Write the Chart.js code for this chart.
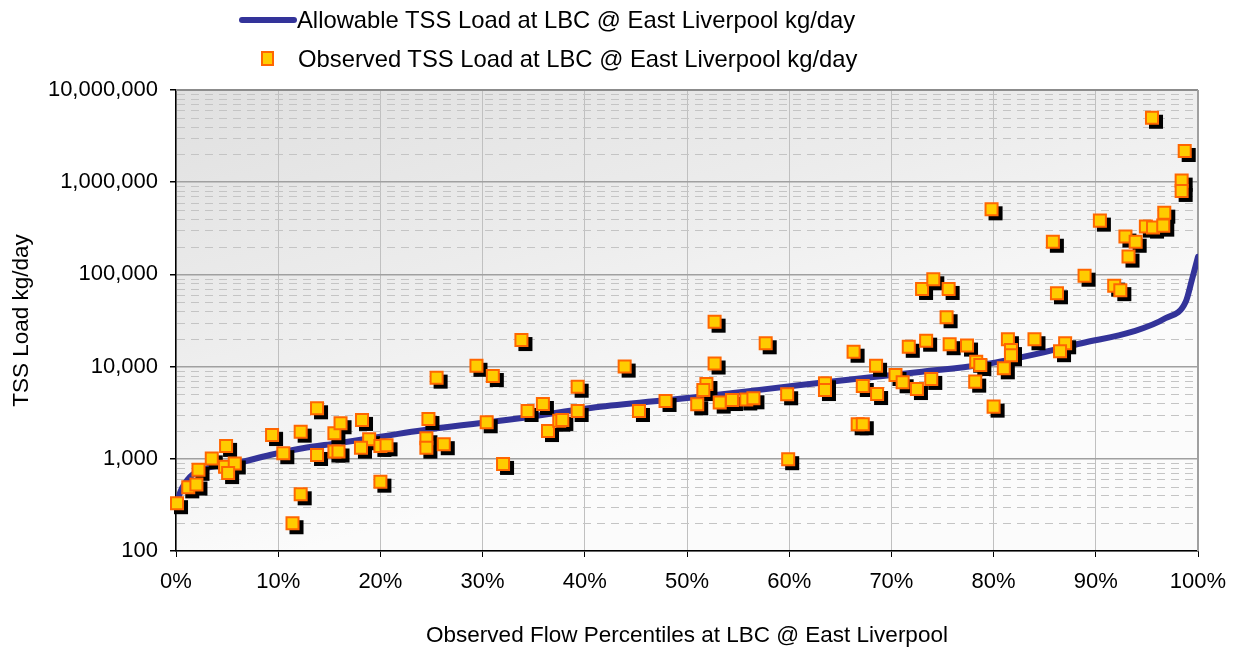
<!DOCTYPE html>
<html>
<head>
<meta charset="utf-8">
<script src="https://cdn.jsdelivr.net/npm/chart.js@4/dist/chart.umd.min.js"></script>
<style>
  html, body { margin: 0; padding: 0; background: #fff; }
  #wrap { position: relative; width: 1235px; height: 650px; }
  #legend { position: absolute; left: 0; top: 0; font-family: "Liberation Sans", Arial, sans-serif; font-size: 23.8px; color: #000; }
  .row { position: absolute; white-space: nowrap; line-height: 1; }
  .swLine { position: absolute; width: 58px; height: 6px; border-radius: 3px; background: #333399; }
  .swBox { position: absolute; width: 9px; height: 11px; background: #ffcc00; border: 2px solid #ff6600; }
</style>
</head>
<body>
<div id="wrap">
  <canvas id="chart" width="1235" height="650"></canvas>
  <div id="legend">
    <div class="swLine" style="left:239px; top:17px;"></div>
    <div class="row" style="left:297px; top:8px;">Allowable TSS Load at LBC @ East Liverpool kg/day</div>
    <div class="swBox" style="left:261px; top:51px;"></div>
    <div class="row" style="left:298px; top:47px;">Observed TSS Load at LBC @ East Liverpool kg/day</div>
  </div>
</div>
<script>
// load duration curve (flow percentile, kg/day)
const allowPct = [0, 0.4, 1.4, 3.0, 5.9, 9.2, 12.4, 15.7, 19.0, 25.5, 32.3, 41.5, 51.3, 61.1, 73.0, 78.7, 83.8, 88.6, 93.6, 96.8, 98.8, 99.4, 100];
const allowLoad = [300, 430, 640, 790, 895, 1100, 1300, 1470, 1670, 2140, 2630, 3670, 4710, 6310, 8810, 10400, 13400, 17900, 23900, 33400, 50600, 86900, 155000];

// observed samples
const obsPct = [0.1, 1.2, 2.0, 2.2, 3.5, 4.9, 4.8, 5.75, 5.1, 9.4, 10.5, 12.2, 12.2, 11.4, 13.8, 13.8, 15.5, 16.1, 15.5, 15.9,
  18.2, 18.9, 18.1, 20.0, 20.6, 20.0, 24.7, 24.5, 24.5, 26.2, 25.5, 29.4, 31.0, 30.4, 32.0, 33.8, 34.4, 35.9, 36.4, 37.5,
  37.8, 39.3, 39.3, 43.9, 45.3, 47.9, 51.0, 51.9, 51.6, 52.7, 52.7, 53.2, 54.4, 55.8, 56.5, 57.7, 59.8, 59.9, 63.5, 63.5,
  66.3, 66.7, 67.2, 67.2, 68.5, 68.6, 70.4, 71.1, 71.7, 72.5, 73.0, 73.4, 73.9, 74.1, 75.6, 75.4, 75.7, 77.4, 78.3, 78.7,
  78.2, 79.8, 80.0, 81.0, 81.4, 81.7, 81.7, 84.0, 85.8, 86.2, 87.0, 86.5, 88.9, 90.4, 91.8, 92.4, 92.9, 93.2, 93.9, 94.9,
  95.6, 96.7, 96.6, 95.5, 98.7, 98.4, 98.4];
const obsLoad = [330, 490, 525, 760, 1010, 1380, 820, 890, 700, 1810, 1150, 1970, 412, 200, 3530, 1100, 1890, 2430, 1200, 1200,
  2640, 1630, 1320, 1380, 1400, 565, 2700, 1670, 1320, 1440, 7590, 10200, 7900, 2490, 880, 19400, 3300, 3930, 2000, 2590,
  2640, 6050, 3300, 10000, 3300, 4240, 3900, 6470, 5570, 30700, 10800, 4070, 4340, 4400, 4530, 17900, 5010, 990, 6590, 5570,
  14500, 2370, 2370, 6160, 10200, 5040, 8110, 6760, 16400, 5710, 69500, 19100, 7350, 88500, 69500, 34300, 17500, 16900, 11300, 10400,
  6870, 508000, 3680, 9580, 19800, 15100, 13300, 19800, 226000, 62400, 17900, 14700, 96800, 383000, 75500, 67500, 257000, 156000, 226000, 330000,
  322000, 467000, 338000, 5000000, 2180000, 1040000, 804000];

const yMajor = [100, 1000, 10000, 100000, 1000000, 10000000];
const yMinorMult = [2, 3, 4, 5, 6, 7, 8, 9];

const FONT = '"Liberation Sans", Arial, sans-serif';

const isMajor = v => yMajor.some(m => Math.abs(m - v) < 1e-6 * m);

// plot background, minor dashed gridlines, frame, marker shadows
const plotDecor = {
    id: 'plotDecor',
    beforeDraw(chart) {
        const { ctx, chartArea: a } = chart;
        const g = ctx.createLinearGradient(a.left, a.top, a.left + a.width * 0.12, a.bottom);
        g.addColorStop(0, '#e0e0e0');
        g.addColorStop(0.5, '#ececec');
        g.addColorStop(1, '#fbfbfb');
        ctx.save();
        ctx.fillStyle = g;
        ctx.fillRect(a.left, a.top, a.width, a.height);
        ctx.restore();
    },
    beforeDatasetsDraw(chart) {
        const { ctx, chartArea: a, scales } = chart;
        const y = scales.y;
        ctx.save();
        ctx.strokeStyle = '#c4c4c4';
        ctx.lineWidth = 1;
        ctx.setLineDash([8, 6]);
        for (let i = 0; i < yMajor.length - 1; i++) {
            yMinorMult.forEach(m => {
                const py = Math.round(y.getPixelForValue(yMajor[i] * m)) + 0.5;
                ctx.beginPath();
                ctx.moveTo(a.left + 1, py);
                ctx.lineTo(a.right, py);
                ctx.stroke();
            });
        }
        ctx.setLineDash([]);
        ctx.strokeStyle = '#8c8c8c';
        ctx.lineWidth = 2;
        ctx.beginPath();
        ctx.moveTo(a.left, a.top);
        ctx.lineTo(a.right, a.top);
        ctx.stroke();
        ctx.strokeStyle = '#a0a0a0';
        ctx.beginPath();
        ctx.moveTo(a.right, a.top);
        ctx.lineTo(a.right, a.bottom);
        ctx.stroke();
        ctx.restore();
    },
    beforeDatasetDraw(chart, args) {
        if (args.index !== 1) return;
        const ctx = chart.ctx;
        ctx.save();
        ctx.fillStyle = '#000';
        args.meta.data.forEach(pt => {
            const r = pt.options.radius * Math.SQRT1_2 + 1;
            ctx.fillRect(pt.x - r + 4, pt.y - r + 4, 2 * r, 2 * r);
        });
        ctx.restore();
    }
};

new Chart(document.getElementById('chart').getContext('2d'), {
    type: 'scatter',
    data: {
        datasets: [{
            type: 'line',
            label: 'Allowable TSS Load at LBC @ East Liverpool kg/day',
            data: allowPct.map((p, i) => ({ x: p, y: allowLoad[i] })),
            borderColor: '#333399',
            borderWidth: 6,
            pointRadius: 0,
            cubicInterpolationMode: 'monotone',
            borderCapStyle: 'round',
            order: 2
        }, {
            label: 'Observed TSS Load at LBC @ East Liverpool kg/day',
            data: obsPct.map((p, i) => ({ x: p, y: obsLoad[i] })),
            pointStyle: 'rect',
            pointRadius: 8.5,
            backgroundColor: '#ffcc00',
            borderColor: '#ff6600',
            borderWidth: 2,
            clip: false,
            order: 1
        }]
    },
    options: {
        responsive: false,
        animation: false,
        layout: { padding: { left: 0, top: 90, right: 37, bottom: 0 } },
        plugins: {
            legend: { display: false },
            tooltip: { enabled: false }
        },
        scales: {
            x: {
                type: 'linear',
                min: 0,
                max: 100,
                ticks: {
                    stepSize: 10,
                    padding: 12,
                    color: '#000',
                    font: { family: FONT, size: 22 },
                    callback: v => v + '%'
                },
                grid: { color: '#c0c0c0', lineWidth: 1, tickLength: 6, tickColor: '#000' },
                border: { color: '#000', width: 1.5 },
                title: {
                    display: true,
                    text: 'Observed Flow Percentiles at LBC @ East Liverpool',
                    color: '#000',
                    font: { family: FONT, size: 22.5 },
                    padding: { top: 4, bottom: 1 }
                },
                afterFit(s) {
                    s.height = 99;
                    s.paddingLeft = 0;
                    s.paddingRight = 0;
                }
            },
            y: {
                type: 'logarithmic',
                min: 100,
                max: 10000000,
                ticks: {
                    autoSkip: false,
                    padding: 12,
                    color: '#000',
                    font: { family: FONT, size: 22 },
                    callback: v => isMajor(v) ? Number(v).toLocaleString('en-US') : ''
                },
                grid: {
                    color: c => (c.tick && isMajor(c.tick.value)) ? '#a0a0a0' : 'rgba(0,0,0,0)',
                    tickColor: c => (c.tick && isMajor(c.tick.value)) ? '#000' : 'rgba(0,0,0,0)',
                    lineWidth: 1.5,
                    tickLength: 6
                },
                border: { color: '#000', width: 1.5 },
                title: {
                    display: true,
                    text: 'TSS Load kg/day',
                    color: '#000',
                    font: { family: FONT, size: 22.5 },
                    padding: { top: 8, bottom: 4 }
                },
                afterFit(s) {
                    s.width = 176;
                    s.paddingTop = 0;
                    s.paddingBottom = 0;
                }
            }
        }
    },
    plugins: [plotDecor]
});
</script>
</body>
</html>
